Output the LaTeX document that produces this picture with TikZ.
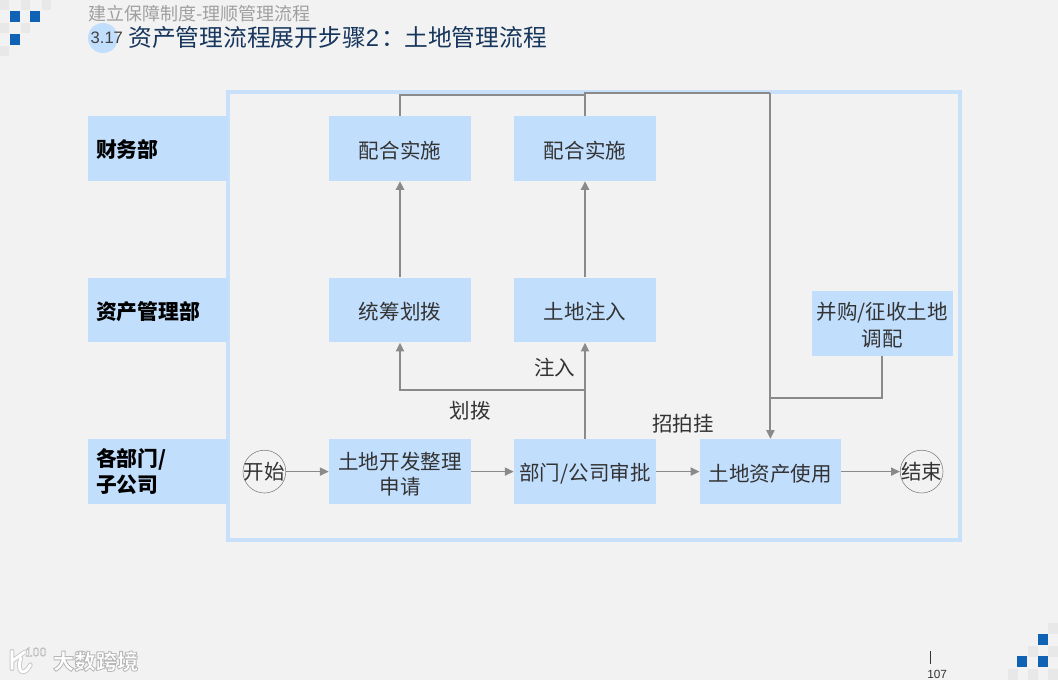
\documentclass[tikz,border=0pt]{standalone}
\usepackage{fontspec}
\setmainfont{Noto Sans CJK SC}
\newfontfamily\latinfont{Liberation Sans}
\usepackage{tikz}
\usetikzlibrary{arrows.meta, positioning, calc}
\definecolor{page_bg}{HTML}{F2F2F2}
\definecolor{box_blue}{HTML}{C1DEFD}
\definecolor{frame_blue}{HTML}{C9E0FB}
\definecolor{line_gray}{HTML}{8A8A8A}
\definecolor{tile_blue}{HTML}{0F62B4}
\definecolor{tile_gray}{HTML}{E8E8E8}
\definecolor{title_navy}{HTML}{17365D}
\tikzset{
    box_step/.style={
        rectangle, fill=box_blue, text=black!80,
        minimum width=3.55cm, minimum height=1.62cm, inner sep=0pt,
        align=center, font=\fontsize{14.6}{17.8}\selectfont
    },
    box_one/.style={
        box_step, execute at begin node={\rule{0pt}{15pt}}
    },
    box_two/.style={
        box_step, execute at begin node={\rule{0pt}{34.2pt}}
    },
    box_dept/.style={
        rectangle, fill=box_blue, text=black,
        minimum width=3.5cm, minimum height=1.62cm, inner sep=0pt,
        text width=3.1cm, align=left, font=\fontsize{14.8}{18.5}\selectfont\bfseries
    },
    box_dept_one/.style={
        box_dept, execute at begin node={\rule{0pt}{15pt}}
    },
    end_circle/.style={
        circle, draw=gray, line width=0.4pt, minimum size=1.07cm, inner sep=0pt,
        text=black!80, font=\fontsize{14.6}{17.8}\selectfont
    },
    pipe_arrow/.style={
        -{Triangle[length=2.2mm, width=2mm]}, draw=line_gray, line width=1.5pt
    },
    pipe_thin/.style={
        -{Triangle[length=2.2mm, width=2mm]}, draw=line_gray, line width=1.2pt
    },
    pipe_line/.style={
        draw=line_gray, line width=1.5pt
    },
    lbl/.style={
        text=black!80, inner sep=0pt, font=\fontsize{14.6}{17.8}\selectfont
    },
    logo_stroke/.style={
        line cap=round, line join=round
    },
    tile_b/.style={fill=tile_blue},
    tile_g/.style={fill=tile_gray}
}

\begin{document}
\begin{tikzpicture}[>=Stealth]

    \useasboundingbox (0, 0) rectangle (26.45, -17);
    \fill[page_bg] (0, 0) rectangle (26.45, -17);

    % corner tiles
    \foreach \x/\y in {0/0, 0.525/0, 1.05/0, 0/-0.575, 0.525/-0.575, 0/-1.15}
        \fill[tile_g] (\x, \y) rectangle ++(0.225, -0.25);
    \foreach \x/\y in {0.25/-0.275, 0.75/-0.275, 0.25/-0.85}
        \fill[tile_b] (\x, \y) rectangle ++(0.25, -0.275);
    \foreach \x/\y in {26.2/-15.575, 25.7/-16.15, 26.2/-16.15, 25.2/-16.725, 25.7/-16.725, 26.2/-16.725}
        \fill[tile_g] (\x, \y) rectangle ++(0.25, -0.275);
    \foreach \x/\y in {25.95/-15.85, 25.43/-16.4, 25.95/-16.4}
        \fill[tile_b] (\x, \y) rectangle ++(0.25, -0.275);

    % heading
    \fill[box_blue] (2.575, -0.95) circle (0.375);
    \node[anchor=west, inner sep=0pt, text=gray!75, font=\fontsize{12.8}{15}\selectfont] (subtitle) at (2.2, -0.33) {建立保障制度-理顺管理流程};
    \node[anchor=west, inner sep=0pt, text=black!75, font=\latinfont\fontsize{11.8}{15}\selectfont] (number) at (2.26, -0.95) {3.17};
    \node[anchor=west, inner sep=0pt, text=title_navy, font=\fontsize{16.9}{20}\selectfont] (title) at (3.2, -0.95) {资产管理流程展开步骤{\latinfont 2}\hspace{2pt}：\hspace{-1pt}土地管理流程};

    % frame
    \draw[frame_blue, line width=2.25pt] (5.7, -2.3) rectangle (24, -13.5);

    % departments
    \node[box_dept_one] (finance) at (3.95, -3.71) {财务部};
    \node[box_dept_one] (assets) at (3.95, -7.75) {资产管理部};
    \node[box_dept] (units) at (3.95, -11.79) {各部门/\\子公司};

    % steps
    \node[box_one] (assist_a) at (10, -3.71) {配合实施};
    \node[box_one] (assist_b) at (14.625, -3.71) {配合实施};
    \node[box_one] (allot) at (10, -7.75) {统筹划拨};
    \node[box_one] (inject) at (14.625, -7.75) {土地注入};
    \node[box_step, minimum width=3.53cm, execute at begin node={\rule{0pt}{33.4pt}}] (acquire) at (22.06, -8.09) {并购/征收土地\\[1.4pt]调配};
    \node[box_two] (apply) at (10, -11.79) {土地开发整理\\申请};
    \node[box_one] (review) at (14.625, -11.79) {部门/公司审批};
    \node[box_one, minimum width=3.53cm] (usage) at (19.26, -11.79) {土地资产使用};
    \node[end_circle] (start) at (6.61, -11.79) {\makebox[0pt]{开始}};
    \node[end_circle] (finish) at (23.04, -11.79) {\makebox[0pt]{结束}};

    % labels
    \node[lbl] (lbl_inject) at (13.87, -9.2) {注入};
    \node[lbl] (lbl_allot) at (11.75, -10.27) {划拨};
    \node[lbl] (lbl_auction) at (17.07, -10.6) {招拍挂};

    \coordinate (top_a) at (14.625, -2.375);
    \coordinate (top_b) at (19.26, -2.325);
    \coordinate (mid_allot) at (14.625, -9.75);
    \coordinate (mid_acquire) at (19.26, -9.95);

    \draw[pipe_thin] (start) -- (apply);
    \draw[pipe_thin] (apply) -- (review);
    \draw[pipe_thin] (review) -- (usage);
    \draw[pipe_thin] (usage) -- (finish);
    \draw[pipe_arrow] (review) -- (inject);
    \draw[pipe_arrow] (mid_allot) -| (allot);
    \draw[pipe_arrow] (allot) -- (assist_a);
    \draw[pipe_arrow] (inject) -- (assist_b);
    \draw[pipe_line] (assist_a.north) |- (top_a);
    \draw[pipe_line] (assist_b.north) |- (top_b);
    \draw[pipe_arrow] (top_b) -- (usage.north -| top_b);
    \draw[pipe_line] (acquire.south) |- (mid_acquire);

    % logo
    \draw[logo_stroke, gray!40, line width=3.4pt] (0.3, -16.28) -- (0.3, -16.72) (0.62, -16.3) -- (0.34, -16.5);
    \draw[logo_stroke, gray!40, line width=3.4pt] (0.52, -16.45) .. controls (0.4, -16.85) and (0.62, -16.9) .. (0.76, -16.62);
    \draw[logo_stroke, white, line width=2pt] (0.3, -16.28) -- (0.3, -16.72) (0.62, -16.3) -- (0.34, -16.5);
    \draw[logo_stroke, white, line width=2pt] (0.52, -16.45) .. controls (0.4, -16.85) and (0.62, -16.9) .. (0.76, -16.62);
    \node[inner sep=0pt, text=white, font=\latinfont\fontsize{9}{9}\selectfont] (logo_mark) at (0.9, -16.3) {\special{pdf:code q 2 Tr 0.3 w 0.72 G 1 g}100\special{pdf:code Q}};
    \node[inner sep=0pt, text=white, font=\fontsize{15.2}{18}\selectfont\bfseries] (logo_text) at (2.39, -16.53) {\special{pdf:code q 2 Tr 0.6 w 0.72 G 1 g}大数跨境\special{pdf:code Q}};

    % page number
    \draw[black!80, line width=0.6pt] (23.25, -16.28) -- (23.25, -16.6);
    \node[inner sep=0pt, text=black!80, font=\latinfont\fontsize{8.4}{10}\selectfont] (page_no) at (23.43, -16.85) {107};

\end{tikzpicture}
\end{document}
